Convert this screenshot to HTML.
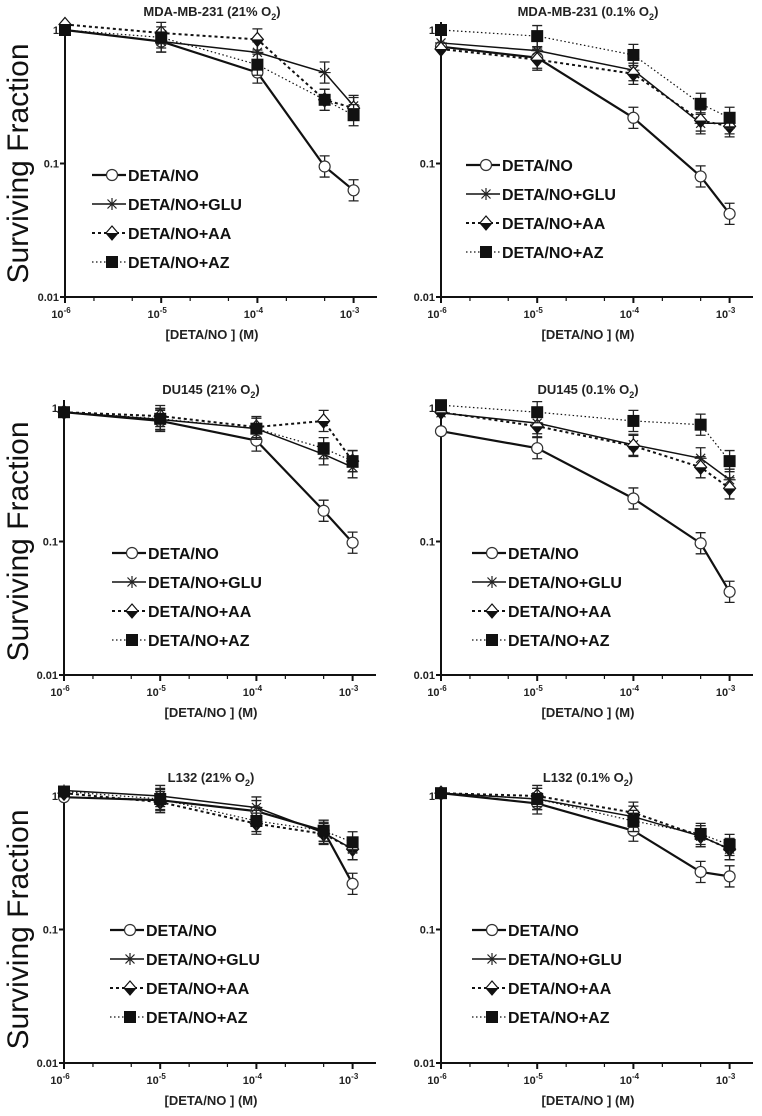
<!DOCTYPE html>
<html><head><meta charset="utf-8">
<style>
html,body{margin:0;padding:0;background:#fff;}
svg{display:block;font-family:"Liberation Sans",Arial,sans-serif;}
</style></head>
<body>
<svg id="fig" width="762" height="1116" viewBox="0 0 762 1116" xmlns="http://www.w3.org/2000/svg"></svg>
<script>
const doses = [1e-6, 1e-5, 1e-4, 5e-4, 1e-3];
const seriesNames = ["DETA/NO", "DETA/NO+GLU", "DETA/NO+AA", "DETA/NO+AZ"];
const xTickLabels = ["-6", "-5", "-4", "-3"];
const yTickLabels = ["0.01", "0.1", "1"];
const panelTitles = ["MDA-MB-231 (21% O", "MDA-MB-231 (0.1% O", "DU145 (21% O", "DU145 (0.1% O", "L132 (21% O", "L132 (0.1% O"];

const tlDeta = [1.0, 0.82, 0.48, 0.095, 0.063];
const tlGlu  = [1.0, 0.82, 0.68, 0.48, 0.27];
const tlAA   = [1.1, 0.95, 0.85, 0.30, 0.26];
const tlAZ   = [1.0, 0.88, 0.55, 0.30, 0.23];

const trDeta = [0.75, 0.62, 0.22, 0.08, 0.042];
const trGlu  = [0.80, 0.70, 0.50, 0.20, 0.20];
const trAA   = [0.72, 0.60, 0.47, 0.21, 0.19];
const trAZ   = [1.00, 0.90, 0.65, 0.28, 0.22];

const mlDeta = [0.93, 0.80, 0.57, 0.17, 0.098];
const mlGlu  = [0.93, 0.82, 0.70, 0.45, 0.36];
const mlAA   = [0.93, 0.87, 0.72, 0.80, 0.40];
const mlAZ   = [0.93, 0.83, 0.70, 0.50, 0.40];

const mrDeta = [0.67, 0.50, 0.21, 0.097, 0.042];
const mrGlu  = [0.92, 0.77, 0.53, 0.42, 0.29];
const mrAA   = [0.93, 0.73, 0.52, 0.36, 0.25];
const mrAZ   = [1.05, 0.93, 0.80, 0.75, 0.40];

const blDeta = [0.98, 0.93, 0.77, 0.55, 0.22];
const blGlu  = [1.10, 1.00, 0.82, 0.53, 0.40];
const blAA   = [1.05, 0.90, 0.62, 0.52, 0.40];
const blAZ   = [1.08, 0.95, 0.65, 0.55, 0.45];

const brDeta = [1.05, 0.88, 0.55, 0.27, 0.25];
const brGlu  = [1.05, 0.95, 0.70, 0.50, 0.40];
const brAA   = [1.05, 1.00, 0.75, 0.50, 0.40];
const brAZ   = [1.05, 0.95, 0.65, 0.52, 0.43];

const panelData = [
  [tlDeta, tlGlu, tlAA, tlAZ], [trDeta, trGlu, trAA, trAZ],
  [mlDeta, mlGlu, mlAA, mlAZ], [mrDeta, mrGlu, mrAA, mrAZ],
  [blDeta, blGlu, blAA, blAZ], [brDeta, brGlu, brAA, brAZ]
];

const svg = document.getElementById('fig');
const NS = 'http://www.w3.org/2000/svg';
function mk(tag, attrs, parent) {
  const e = document.createElementNS(NS, tag);
  for (const k in attrs) e.setAttribute(k, attrs[k]);
  (parent || svg).appendChild(e);
  return e;
}
const layouts = [
  {x0:65, y0:297, leg:{x:92, y:175}}, {x0:441, y0:297, leg:{x:466, y:165}},
  {x0:64, y0:675, leg:{x:112, y:553}}, {x0:441, y0:675, leg:{x:472, y:553}},
  {x0:64, y0:1063, leg:{x:110, y:930}}, {x0:441, y0:1063, leg:{x:472, y:930}}
];
const DX = 96.2, DY = 133.5;
const styles = [
  {dash:null, w:2.2, m:'circle'},
  {dash:null, w:1.5, m:'star'},
  {dash:'3,3', w:2, m:'diamond'},
  {dash:'1.5,2.5', w:1.2, m:'square'}
];
function marker(g, kind, cx, cy) {
  if (kind === 'circle') mk('circle', {cx, cy, r:5.5, fill:'#fff', stroke:'#333', 'stroke-width':1.2}, g);
  else if (kind === 'square') mk('rect', {x:cx-6, y:cy-6, width:12, height:12, fill:'#111'}, g);
  else if (kind === 'diamond') {
    mk('path', {d:`M${cx} ${cy-7}L${cx+6} ${cy}L${cx} ${cy+7}L${cx-6} ${cy}Z`, fill:'#fff', stroke:'#111', 'stroke-width':1.2}, g);
    mk('path', {d:`M${cx-6} ${cy}L${cx+6} ${cy}L${cx} ${cy+7}Z`, fill:'#111'}, g);
  } else {
    mk('path', {d:`M${cx-6} ${cy}H${cx+6}M${cx} ${cy-6}V${cy+6}M${cx-4.5} ${cy-4.5}L${cx+4.5} ${cy+4.5}M${cx-4.5} ${cy+4.5}L${cx+4.5} ${cy-4.5}`, stroke:'#222', 'stroke-width':1.2}, g);
  }
}
layouts.forEach((L, p) => {
  const g = mk('g', {});
  
  
  const xs = d => L.x0 + (Math.log10(d) + 6) * DX;
  const ys = v => L.y0 - (Math.log10(v) + 2) * DY;
  const ax = mk('path', {d:`M${L.x0} ${L.y0-2*DY-8}V${L.y0}H${L.x0+312}`, stroke:'#111', 'stroke-width':2, fill:'none'}, g);
  
  
  for (let k = 0; k < 3; k++) {
    const yy = ys(Math.pow(10, k-2));
    mk('line', {x1:L.x0-5, x2:L.x0, y1:yy, y2:yy, stroke:'#111', 'stroke-width':2}, g);
    const t = mk('text', {x:L.x0-6, y:yy+4, 'text-anchor':'end', 'font-size':11, 'font-weight':'bold', fill:'#222'}, g);
    t.textContent = yTickLabels[k];
    
    
  }
  for (let k = 0; k < 4; k++) {
    const xx = xs(Math.pow(10, k-6));
    mk('line', {x1:xx, x2:xx, y1:L.y0, y2:L.y0+6, stroke:'#111', 'stroke-width':2}, g);
    if (k < 3) for (const m of [2,5]) {
      const mx = xs(m*Math.pow(10, k-6));
      mk('line', {x1:mx, x2:mx, y1:L.y0, y2:L.y0+4, stroke:'#111', 'stroke-width':1.2}, g);
    }
    const t = mk('text', {x:xx-4, y:L.y0+21, 'text-anchor':'middle', 'font-size':11, 'font-weight':'bold', fill:'#222'}, g);
    
    
    t.appendChild(document.createTextNode('10'));
    const s = mk('tspan', {dy:-5, 'font-size':8}, t); s.textContent = xTickLabels[k];
  }
  const tt = mk('text', {x:L.x0+147, y:L.y0-2*DY-14, 'text-anchor':'middle', 'font-size':13, 'font-weight':'bold', fill:'#222'}, g);
  
  
  tt.appendChild(document.createTextNode(panelTitles[p]));
  const sb = mk('tspan', {dy:4, 'font-size':9}, tt); sb.textContent = '2';
  const cl = mk('tspan', {dy:-4}, tt); cl.textContent = ')';
  const xl = mk('text', {x:L.x0+147, y:L.y0+42, 'text-anchor':'middle', 'font-size':13, 'font-weight':'bold', fill:'#222'}, g);
  xl.textContent = '[DETA/NO ] (M)';
  
  
  if (p % 2 === 0) {
    const yl = mk('text', {x:0, y:0, 'text-anchor':'middle', 'font-size':30, fill:'#111', transform:`translate(28 ${L.y0-DY}) rotate(-90)`}, g);
    yl.textContent = 'Surviving Fraction';
    
    
  }
  panelData[p].forEach((vals, s) => {
    const st = styles[s];
    const sg = mk('g', {}, g);
    
    
    const pts = vals.map((v, i) => [xs(doses[i]), ys(v)]);
    const pl = {points: pts.map(q => q.join(',')).join(' '), fill:'none', stroke:'#111', 'stroke-width':st.w};
    if (st.dash) pl['stroke-dasharray'] = st.dash;
    mk('polyline', pl, sg);
    vals.forEach((v, i) => {
      if (i > 0) {
        const y1 = ys(v*1.2), y2 = ys(v/1.2), x = pts[i][0];
        mk('path', {d:`M${x} ${y1}V${y2}M${x-5} ${y1}H${x+5}M${x-5} ${y2}H${x+5}`, stroke:'#222', 'stroke-width':1.3}, sg);
      }
      marker(sg, st.m, pts[i][0], pts[i][1]);
    });
  });
  const lg = mk('g', {}, g);
  
  
  seriesNames.forEach((n, s) => {
    const st = styles[s];
    const yy = L.leg.y + s*29;
    const e = mk('g', {}, lg);
    
    
    const la = {x1:L.leg.x, x2:L.leg.x+34, y1:yy, y2:yy, stroke:'#111', 'stroke-width':st.w};
    if (st.dash) la['stroke-dasharray'] = st.dash;
    mk('line', la, e);
    marker(e, st.m, L.leg.x+20, yy);
    const t = mk('text', {x:L.leg.x+36, y:yy+6, 'font-size':16, 'font-weight':'bold', fill:'#111'}, e);
    t.textContent = n;
  });
});
</script>
</body></html>
